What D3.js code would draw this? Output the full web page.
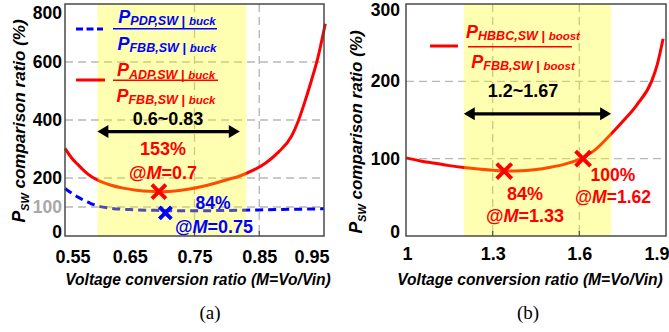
<!DOCTYPE html>
<html>
<head>
<meta charset="utf-8">
<script src="https://cdn.jsdelivr.net/npm/d3@7"></script>
<style>
  html, body { margin: 0; padding: 0; background: #fff; }
  svg { display: block; }
  text { font-family: "Liberation Sans", Arial, sans-serif; }
  text.caption { font-family: "Liberation Serif", "Times New Roman", serif; }
</style>
</head>
<body>
<svg id="chart" width="669" height="332"></svg>
<script>
// ---------------- DATA ----------------
// Panel (a): buck
const xTicksA = [0.55, 0.65, 0.75, 0.85, 0.95];
const yTicksA = [0, 100, 200, 400, 600, 800];
const gridXA = [0.75, 0.85];
const gridYA = [100, 200, 400, 600];
const mA = [0.55, 0.56, 0.57, 0.58, 0.59, 0.60, 0.62, 0.64, 0.66, 0.68, 0.70, 0.72, 0.74, 0.76, 0.78, 0.80, 0.82, 0.84, 0.86, 0.88, 0.90, 0.91, 0.92, 0.93, 0.94, 0.952];
const adpA = [302, 270, 246, 224, 206, 193, 176, 165, 158, 154, 153, 155, 161, 170, 181, 194, 207, 226, 252, 290, 345, 395, 460, 532, 610, 732];
const mBlueA = [0.55, 0.56, 0.57, 0.58, 0.59, 0.60, 0.62, 0.65, 0.70, 0.75, 0.80, 0.85, 0.90, 0.95];
const pdpA = [164, 148, 134, 122, 112, 104, 96, 91, 88, 87, 88, 90, 92, 94];
const bandA = [0.60, 0.83];
const arrowA = [0.60, 0.82, 360];
const markerRedA = [0.695, 153];
const markerBlueA = [0.705, 80];
const rangeLabelA = "0.6~0.83";

// Panel (b): boost
const xTicksB = [1, 1.3, 1.6, 1.9];
const yTicksB = [0, 100, 200, 300];
const gridXB = [1.3, 1.6];
const gridYB = [100, 200];
const mB = [1.0, 1.05, 1.1, 1.15, 1.2, 1.25, 1.3, 1.35, 1.4, 1.45, 1.5, 1.55, 1.6, 1.65, 1.7, 1.75, 1.8, 1.85, 1.87, 1.89];
const hbbcB = [101, 97, 94, 91, 88.5, 86.5, 85, 84, 84.5, 86, 89, 93, 99, 110, 128, 148, 170, 200, 222, 255];
const bandB = [1.2, 1.71];
const arrowB = [1.2, 1.71, 158];
const markersB = [[1.34, 84], [1.613, 100]];
const rangeLabelB = "1.2~1.67";

const RED = "#ff0000", BLUE = "#0000ff", GRID = "#b8b8b8";

const svg = d3.select("#chart");

function xMark(g, cx, cy, h, color, sw) {
  g.append("path")
    .attr("d", `M${cx - h},${cy - h}L${cx + h},${cy + h}M${cx - h},${cy + h}L${cx + h},${cy - h}`)
    .attr("stroke", color).attr("stroke-width", sw).attr("fill", "none");
}

function arrow(g, x1, x2, y) {
  const hl = 11, hw = 6.5;
  g.append("line").attr("x1", x1 + hl - 1).attr("x2", x2 - hl + 1).attr("y1", y).attr("y2", y)
    .attr("stroke", "#000").attr("stroke-width", 3.2);
  g.append("path").attr("d", `M${x1},${y}L${x1 + hl},${y - hw}L${x1 + hl},${y + hw}Z`).attr("fill", "#000");
  g.append("path").attr("d", `M${x2},${y}L${x2 - hl},${y - hw}L${x2 - hl},${y + hw}Z`).attr("fill", "#000");
}

function label(g, x, y, parts, color, size) {
  const t = g.append("text").attr("x", x).attr("y", y).attr("text-anchor", "middle")
    .attr("fill", color).attr("font-size", size).attr("font-weight", "bold");
  parts.forEach(p => t.append("tspan").attr("font-style", p[1] ? "italic" : "normal").text(p[0]));
  return t;
}

function fraction(g, cx, lineY, x1, x2, numSub, denSub, tail, color, numGap) {
  g.append("line").attr("x1", x1).attr("x2", x2).attr("y1", lineY).attr("y2", lineY)
    .attr("stroke", color).attr("stroke-width", 1.6);
  [[numSub, lineY - numGap], [denSub, lineY + 21.2]].forEach(([sub, by]) => {
    const t = g.append("text").attr("x", cx).attr("y", by).attr("text-anchor", "middle")
      .attr("fill", color).attr("font-weight", "bold");
    t.append("tspan").attr("font-size", 18).attr("font-style", "italic").text("P");
    t.append("tspan").attr("font-size", 12.5).attr("font-style", "italic").attr("dy", 2.5).text(sub);
    t.append("tspan").attr("font-size", 13).text(" | ");
    t.append("tspan").attr("font-size", 11.5).attr("font-style", "italic").text(tail);
  });
}

function yTitle(g, x, y) {
  const t = g.append("text").attr("transform", `translate(${x},${y}) rotate(-90)`)
    .attr("text-anchor", "middle").attr("dy", "0.35em")
    .attr("font-weight", "bold").attr("font-style", "italic").attr("fill", "#000");
  t.append("tspan").attr("font-size", 17.5).text("P");
  t.append("tspan").attr("font-size", 11).attr("dy", 4).text("SW");
  t.append("tspan").attr("font-size", 17).attr("dy", -4).text(" comparison ratio (%)");
}

function panel(cfg) {
  const g = svg.append("g");
  const x = d3.scaleLinear().domain(cfg.xDomain).range([cfg.left, cfg.right]);
  const y = d3.scaleLinear().domain(cfg.yDomain).range([cfg.bottom, cfg.top]);

  // grid
  g.selectAll(null).data(cfg.gridY).join("line")
    .attr("x1", cfg.left).attr("x2", cfg.right).attr("y1", d => y(d)).attr("y2", d => y(d))
    .attr("stroke", GRID).attr("stroke-width", 1.4).attr("stroke-dasharray", "8,5");
  g.selectAll(null).data(cfg.gridX).join("line")
    .attr("y1", cfg.top).attr("y2", cfg.bottom).attr("x1", d => x(d)).attr("x2", d => x(d))
    .attr("stroke", GRID).attr("stroke-width", 1.4).attr("stroke-dasharray", "8,5");

  // curves
  const line = d3.line().x(d => x(d[0])).y(d => y(d[1])).curve(d3.curveMonotoneX);
  cfg.curves.forEach(c => {
    g.append("path").datum(d3.zip(c.xs, c.ys)).attr("d", line)
      .attr("fill", "none").attr("stroke", c.color).attr("stroke-width", c.width)
      .attr("stroke-dasharray", c.dash || null);
  });

  // band (overlay)
  g.append("rect").attr("x", x(cfg.band[0])).attr("width", x(cfg.band[1]) - x(cfg.band[0]))
    .attr("y", cfg.top).attr("height", cfg.bottom - cfg.top)
    .attr("fill", "#ffff00").attr("fill-opacity", 0.3);

  // inner bottom ticks
  g.selectAll(null).data(cfg.gridX).join("line")
    .attr("x1", d => x(d)).attr("x2", d => x(d)).attr("y1", cfg.bottom).attr("y2", cfg.bottom - 5)
    .attr("stroke", "#555").attr("stroke-width", 1.3);

  // frame
  g.append("rect").attr("x", cfg.left).attr("y", cfg.top)
    .attr("width", cfg.right - cfg.left).attr("height", cfg.bottom - cfg.top)
    .attr("fill", "none").attr("stroke", "#4a4a4a").attr("stroke-width", 1.5);

  // axes
  const ax = g.append("g").attr("transform", `translate(0,${cfg.bottom})`)
    .call(d3.axisBottom(x).tickValues(cfg.xTicks).tickSize(0).tickPadding(cfg.xPad).tickFormat(d => String(d)));
  ax.select(".domain").remove();
  ax.selectAll("text").attr("font-size", 18).attr("font-weight", "bold").attr("fill", "#000");
  ax.selectAll("text").filter((d, i) => i === 0).attr("text-anchor", "start").attr("x", cfg.firstDx);
  ax.selectAll("text").filter((d, i) => i === cfg.xTicks.length - 1).attr("text-anchor", "end").attr("x", cfg.lastDx);

  const ay = g.append("g").attr("transform", `translate(${cfg.left},0)`)
    .call(d3.axisLeft(y).tickValues(cfg.yTicks).tickSize(0).tickPadding(cfg.yPad));
  ay.select(".domain").remove();
  ay.selectAll("text").attr("font-size", 17.5).attr("font-weight", "bold").attr("fill", "#000");
  ay.selectAll("text").filter(d => d === cfg.yDomain[1]).attr("y", cfg.topLabelDy);
  ay.selectAll("text").filter(d => d === 0).attr("y", -4.5);
  if (cfg.grayTick !== undefined)
    ay.selectAll("text").filter(d => d === cfg.grayTick).attr("fill", "#a8a8a8");

  // x title
  g.append("text").attr("x", cfg.xTitleX).attr("y", 285).attr("text-anchor", "middle")
    .attr("font-size", 15.6).attr("font-weight", "bold").attr("font-style", "italic")
    .text("Voltage conversion ratio (M=Vo/Vin)");
  yTitle(g, cfg.yTitleX, cfg.yTitleY);

  // caption
  g.append("text").attr("class", "caption").attr("x", cfg.capX).attr("y", 319).attr("text-anchor", "middle")
    .attr("font-size", 19).text(cfg.caption);

  return { g, x, y };
}

// ---------- Panel (a) ----------
const A = panel({
  xDomain: [0.55, 0.95], yDomain: [0, 800], left: 65, right: 324, top: 4, bottom: 236,
  xTicks: xTicksA, yTicks: yTicksA, gridX: gridXA, gridY: gridYA, band: bandA,
  xPad: 14, yPad: 3, firstDx: -10, lastDx: 5, topLabelDy: 8.5, grayTick: 100,
  curves: [
    { xs: mBlueA, ys: pdpA, color: BLUE, width: 3, dash: "8,5" },
    { xs: mA, ys: adpA, color: RED, width: 3 }
  ],
  xTitleX: 198, yTitleX: 19, yTitleY: 121, capX: 210, caption: "(a)"
});
xMark(A.g, A.x(markerRedA[0]), A.y(markerRedA[1]), 7, RED, 4);
xMark(A.g, A.x(markerBlueA[0]), A.y(markerBlueA[1]), 6, BLUE, 4);
arrow(A.g, A.x(arrowA[0]), A.x(arrowA[1]), A.y(arrowA[2]));
label(A.g, 168, 124.5, [[rangeLabelA, false]], "#000", 18);
label(A.g, 163, 154.5, [["153%", false]], RED, 18);
label(A.g, 163, 178.5, [["@", false], ["M", true], ["=0.7", false]], RED, 18);
label(A.g, 213, 209, [["84%", false]], BLUE, 17.5);
label(A.g, 214, 232.5, [["@", false], ["M", true], ["=0.75", false]], BLUE, 18);
// legend (a)
A.g.append("line").attr("x1", 76).attr("x2", 103).attr("y1", 29).attr("y2", 29)
  .attr("stroke", BLUE).attr("stroke-width", 3).attr("stroke-dasharray", "7,3.5");
fraction(A.g, 167, 28.7, 113, 217, "PDP,SW", "FBB,SW", "buck", BLUE, 6);
A.g.append("line").attr("x1", 76).attr("x2", 105).attr("y1", 80).attr("y2", 80)
  .attr("stroke", RED).attr("stroke-width", 3);
fraction(A.g, 166, 80.3, 113, 218, "ADP,SW", "FBB,SW", "buck", RED, 4);

// ---------- Panel (b) ----------
const B = panel({
  xDomain: [1, 1.9], yDomain: [0, 300], left: 406, right: 666, top: 4, bottom: 236,
  xTicks: xTicksB, yTicks: yTicksB, gridX: gridXB, gridY: gridYB, band: bandB,
  xPad: 11, yPad: 6, firstDx: -4, lastDx: 3, topLabelDy: 6,
  curves: [{ xs: mB, ys: hbbcB, color: RED, width: 3 }],
  xTitleX: 530, yTitleX: 356, yTitleY: 132, capX: 528, caption: "(b)"
});
markersB.forEach(m => xMark(B.g, B.x(m[0]), B.y(m[1]), 7.5, RED, 4));
arrow(B.g, B.x(arrowB[0]), B.x(arrowB[1]), B.y(arrowB[2]));
label(B.g, 523, 96.5, [[rangeLabelB, false]], "#000", 18);
label(B.g, 525, 199.5, [["84%", false]], RED, 18);
label(B.g, 525, 221.5, [["@", false], ["M", true], ["=1.33", false]], RED, 18);
label(B.g, 613, 181, [["100%", false]], RED, 17.5);
label(B.g, 613, 203, [["@", false], ["M", true], ["=1.62", false]], RED, 17.5);
B.g.append("line").attr("x1", 430).attr("x2", 458).attr("y1", 46).attr("y2", 46)
  .attr("stroke", RED).attr("stroke-width", 3);
fraction(B.g, 523, 46.7, 468, 572, "HBBC,SW", "FBB,SW", "boost", RED, 9);
</script>
</body>
</html>
